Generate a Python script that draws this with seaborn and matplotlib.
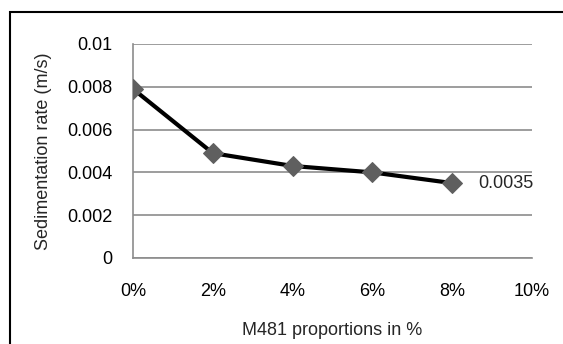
import numpy as np
import pandas as pd
import matplotlib
matplotlib.use('Agg')
import matplotlib.pyplot as plt
import seaborn as sns
from matplotlib.patches import Rectangle

# data
proportions = [0, 2, 4, 6, 8]
rates = [0.0079, 0.0049, 0.0043, 0.0040, 0.0035]
x_ticks = [0, 2, 4, 6, 8, 10]
x_ticklabels = ['0%', '2%', '4%', '6%', '8%', '10%']
y_ticks = [0, 0.002, 0.004, 0.006, 0.008, 0.01]
y_ticklabels = ['0', '0.002', '0.004', '0.006', '0.008', '0.01']

df = pd.DataFrame({'prop': proportions, 'rate': rates})

sns.set_style('white')
plt.rcParams['font.family'] = ['Liberation Sans', 'DejaVu Sans']
fs = 13

fig = plt.figure(figsize=(5.63, 3.44), dpi=100)
ax = fig.add_axes([133 / 563, 1 - 258 / 344, (532 - 133) / 563, (258 - 44) / 344])

sns.lineplot(data=df, x='prop', y='rate', ax=ax, color='black', linewidth=3,
             marker='D', markersize=10.5, markerfacecolor='#5f5f5f',
             markeredgecolor='#5f5f5f', zorder=3)

ax.set_xlim(0, 10)
ax.set_ylim(0, 0.01)
ax.set_xticks(x_ticks)
ax.set_xticklabels(x_ticklabels)
ax.set_yticks(y_ticks)
ax.set_yticklabels(y_ticklabels)
ax.tick_params(axis='both', labelsize=fs, colors='black', length=0)
ax.tick_params(axis='x', pad=18)
ax.tick_params(axis='y', pad=15)

ax.yaxis.grid(True, color='#8c8c8c', linewidth=1.2)
ax.xaxis.grid(False)
for s in ['top', 'right']:
    ax.spines[s].set_visible(False)
ax.spines['left'].set_color('#8c8c8c')
ax.spines['bottom'].set_color('#8c8c8c')
ax.spines['left'].set_linewidth(1.2)
ax.spines['bottom'].set_linewidth(1.2)

ax.set_xlabel('M481 proportions in %', fontsize=fs, labelpad=16)
ax.set_ylabel('Sedimentation rate (m/s)', fontsize=fs, labelpad=11)

ax.annotate('0.0035', xy=(proportions[-1], rates[-1]), xytext=(19, 0),
            textcoords='offset points', va='center', ha='left', fontsize=fs)

# outer chart border, cropped at right and bottom
fig.patches.append(Rectangle((10 / 563, -0.1), 1.2, 1 - 12 / 344 + 0.1,
                             transform=fig.transFigure, fill=False,
                             edgecolor='black', linewidth=1.5))

fig.savefig('out.png', dpi=100)
